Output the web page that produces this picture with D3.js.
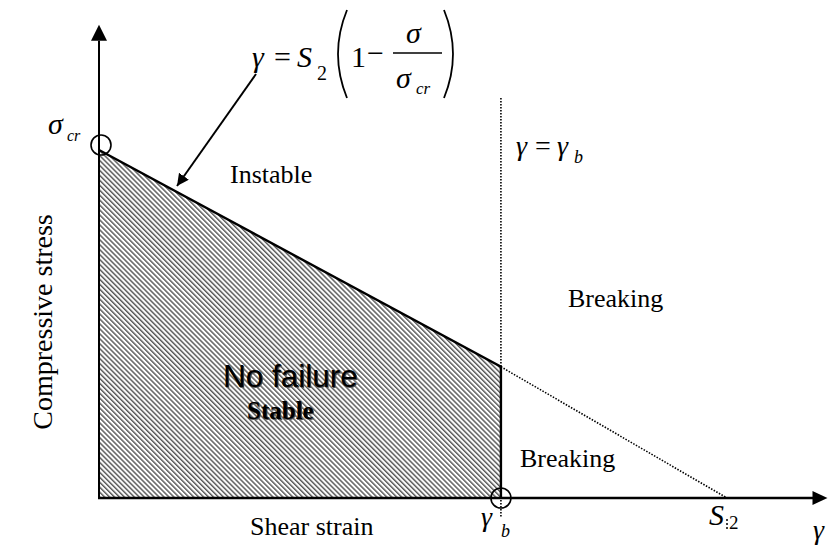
<!DOCTYPE html>
<html>
<head>
  <meta charset="utf-8">
  <title>Stability diagram</title>
  <style>
    html, body {
      margin: 0;
      padding: 0;
      background: #fff;
    }
    svg {
      display: block;
    }
    .serif {
      font-family: "Liberation Serif", "Times New Roman", serif;
      fill: #000;
    }
    .it {
      font-style: italic;
    }
  </style>
</head>
<body>
  <svg id="chart" width="828" height="546"></svg>

  <script src="https://d3js.org/d3.v7.min.js"></script>
  <script>
    // boundary of the stable region (gamma / S2, sigma / sigma_cr)
    const boundaryGamma = [0, 0.64, 1];
    const boundarySigma = [1, 0.377, 0];
    const gammaB = 0.64;
    const axisMax = { gamma: 1.16, sigma: 1.36 };

    const svg = d3.select("#chart");
    const x = d3.scaleLinear().domain([0, 1]).range([99, 727]);
    const y = d3.scaleLinear().domain([0, 1]).range([498, 150]);

    const pts = boundaryGamma.map((g, i) => [g, boundarySigma[i]]);

    // hatch pattern
    const defs = svg.append("defs");
    const pat = defs.append("pattern")
      .attr("id", "hatch")
      .attr("patternUnits", "userSpaceOnUse")
      .attr("width", 8).attr("height", 3.5)
      .attr("patternTransform", "rotate(45)");
    pat.append("line")
      .attr("x1", 0).attr("x2", 8)
      .attr("y1", 1).attr("y2", 1)
      .attr("stroke", "#333").attr("stroke-width", 1.2);

    defs.append("marker")
      .attr("id", "head")
      .attr("viewBox", "0 0 10 10")
      .attr("refX", 10).attr("refY", 5)
      .attr("markerWidth", 6).attr("markerHeight", 6)
      .attr("markerUnits", "strokeWidth")
      .attr("orient", "auto")
      .append("path").attr("d", "M0,0 L10,5 L0,10 Z").attr("fill", "#000");

    defs.append("filter").attr("id", "glow")
      .append("feGaussianBlur").attr("stdDeviation", 0.6);

    // stable region
    const area = [[0, 0], pts[0], pts[1], [gammaB, 0]];
    svg.append("path")
      .attr("d", d3.line().x(d => x(d[0])).y(d => y(d[1]))(area) + "Z")
      .attr("fill", "url(#hatch)");

    // solid boundary
    svg.append("path")
      .attr("d", d3.line().x(d => x(d[0])).y(d => y(d[1]))([pts[0], pts[1], [gammaB, 0]]))
      .attr("fill", "none").attr("stroke", "#000").attr("stroke-width", 2.4);

    // dotted continuation to S2
    svg.append("line")
      .attr("x1", x(pts[1][0])).attr("y1", y(pts[1][1]))
      .attr("x2", x(pts[2][0])).attr("y2", y(pts[2][1]))
      .attr("stroke", "#000").attr("stroke-width", 1.6)
      .attr("stroke-dasharray", "1.5,1.5");

    // gamma = gamma_b vertical dotted line
    svg.append("line")
      .attr("x1", x(gammaB)).attr("x2", x(gammaB))
      .attr("y1", 98).attr("y2", 518)
      .attr("stroke", "#000").attr("stroke-width", 1.6)
      .attr("stroke-dasharray", "1.5,1.5");

    // small tick under S2
    svg.append("line")
      .attr("x1", x(1)).attr("x2", x(1))
      .attr("y1", 519).attr("y2", 529)
      .attr("stroke", "#000").attr("stroke-width", 1.5)
      .attr("stroke-dasharray", "2,2");

    // axes
    svg.append("line")
      .attr("x1", x(0)).attr("y1", y(0))
      .attr("x2", x(0)).attr("y2", y(axisMax.sigma) + 16)
      .attr("stroke", "#000").attr("stroke-width", 2);
    svg.append("path")
      .attr("d", `M${x(0)},${y(axisMax.sigma)} L${x(0) - 8},${y(axisMax.sigma) + 16} L${x(0) + 8},${y(axisMax.sigma) + 16} Z`)
      .attr("fill", "#000");

    svg.append("line")
      .attr("x1", x(0) - 1).attr("y1", y(0))
      .attr("x2", x(axisMax.gamma) - 14).attr("y2", y(0))
      .attr("stroke", "#000").attr("stroke-width", 2.6);
    svg.append("path")
      .attr("d", `M${x(axisMax.gamma)},${y(0)} L${x(axisMax.gamma) - 15},${y(0) - 7} L${x(axisMax.gamma) - 15},${y(0) + 7} Z`)
      .attr("fill", "#000");

    // circles
    svg.append("circle").attr("cx", x(0) + 2).attr("cy", y(1) - 5).attr("r", 10)
      .attr("fill", "none").attr("stroke", "#000").attr("stroke-width", 1.6);
    svg.append("circle").attr("cx", x(gammaB)).attr("cy", y(0)).attr("r", 10)
      .attr("fill", "none").attr("stroke", "#000").attr("stroke-width", 1.6);

    // arrow from the formula to the boundary
    svg.append("line")
      .attr("x1", 256).attr("y1", 74)
      .attr("x2", 177).attr("y2", 186)
      .attr("stroke", "#000").attr("stroke-width", 2)
      .attr("marker-end", "url(#head)");

    // formula  gamma = S2 (1 - sigma / sigma_cr)
    const f = svg.append("g").attr("class", "serif");
    f.append("text").attr("class", "it").attr("x", 252).attr("y", 67).attr("font-size", 30).text("γ");
    f.append("text").attr("x", 274).attr("y", 67).attr("font-size", 30).text("=");
    f.append("text").attr("class", "it").attr("x", 297).attr("y", 67).attr("font-size", 30).text("S");
    f.append("text").attr("x", 317).attr("y", 80).attr("font-size", 20).text("2");
    f.append("path").attr("d", "M347,10 Q329,54 347,98").attr("fill", "none").attr("stroke", "#000").attr("stroke-width", 1.8);
    f.append("path").attr("d", "M444,10 Q462,54 444,98").attr("fill", "none").attr("stroke", "#000").attr("stroke-width", 1.8);
    f.append("text").attr("x", 351).attr("y", 67).attr("font-size", 30).text("1");
    f.append("text").attr("x", 367).attr("y", 63).attr("font-size", 30).text("−");
    f.append("text").attr("class", "it").attr("x", 406).attr("y", 43).attr("font-size", 30).text("σ");
    f.append("line").attr("x1", 393).attr("x2", 442).attr("y1", 53).attr("y2", 53).attr("stroke", "#000").attr("stroke-width", 1.3);
    f.append("text").attr("class", "it").attr("x", 396).attr("y", 88).attr("font-size", 30).text("σ");
    f.append("text").attr("class", "it").attr("x", 416).attr("y", 94).attr("font-size", 17).text("cr");

    // sigma_cr label
    const s = svg.append("g").attr("class", "serif it");
    s.append("text").attr("x", 48).attr("y", 134).attr("font-size", 30).text("σ");
    s.append("text").attr("x", 67).attr("y", 141).attr("font-size", 16).text("cr");

    // gamma = gamma_b label
    const g = svg.append("g").attr("class", "serif");
    g.append("text").attr("class", "it").attr("x", 516).attr("y", 155).attr("font-size", 28).text("γ");
    g.append("text").attr("x", 535).attr("y", 155).attr("font-size", 28).text("=");
    g.append("text").attr("class", "it").attr("x", 557).attr("y", 155).attr("font-size", 28).text("γ");
    g.append("text").attr("class", "it").attr("x", 574).attr("y", 163).attr("font-size", 18).text("b");

    // region labels
    const lab = svg.append("g").attr("class", "serif").attr("font-size", 26);
    lab.append("text").attr("x", 230).attr("y", 183).text("Instable");
    lab.append("text").attr("x", 568).attr("y", 307).text("Breaking");
    lab.append("text").attr("x", 520).attr("y", 467).text("Breaking");

    // "No failure" / "Stable" with a soft halo like the original
    const nf = svg.append("g");
    [["glow", "#555"], [null, "#000"]].forEach(([flt, col]) => {
      const t = nf.append("g").attr("fill", col);
      if (flt) t.attr("filter", "url(#glow)").attr("transform", "translate(1,1)");
      t.append("text").attr("x", 223).attr("y", 387)
        .attr("font-family", "'Liberation Sans', Arial, sans-serif")
        .attr("font-size", 31.5).text("No failure");
      t.append("text").attr("class", "serif").attr("x", 247).attr("y", 419)
        .attr("font-weight", "bold").attr("font-size", 25).style("fill", col).text("Stable");
    });

    // axis labels
    svg.append("text").attr("class", "serif").attr("font-size", 28)
      .attr("text-anchor", "middle")
      .attr("transform", "translate(52,322) rotate(-90)")
      .text("Compressive stress");
    svg.append("text").attr("class", "serif").attr("font-size", 26)
      .attr("x", 250).attr("y", 535).text("Shear strain");

    const b = svg.append("g").attr("class", "serif it");
    b.append("text").attr("x", 481).attr("y", 526).attr("font-size", 28).text("γ");
    b.append("text").attr("x", 501).attr("y", 537).attr("font-size", 18).text("b");
    b.append("text").attr("x", 709).attr("y", 525).attr("font-size", 30).text("S");
    b.append("text").attr("x", 729).attr("y", 529).attr("font-size", 19).attr("font-style", "normal").text("2");
    b.append("text").attr("x", 813).attr("y", 539).attr("font-size", 28).text("γ");
  </script>
</body>
</html>
